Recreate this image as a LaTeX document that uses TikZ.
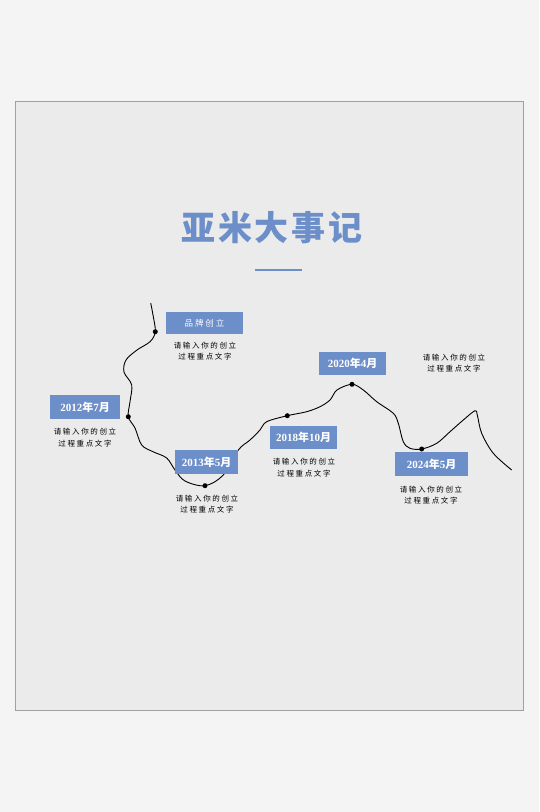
\documentclass[tikz,border=0pt]{standalone}
\usepackage{fontspec}
\setmainfont{Liberation Serif}
\newfontfamily\cjk{Noto Sans CJK SC}
\newfontfamily\cjkwide[LetterSpace=22]{Noto Sans CJK SC}
\newfontfamily\cjktitle[LetterSpace=8]{Noto Sans CJK SC}
\usetikzlibrary{positioning}
\definecolor{ymblue}{HTML}{6C8EC9}
\definecolor{ymbg}{HTML}{F4F4F4}
\definecolor{ympanel}{HTML}{EBEBEB}
\definecolor{ymedge}{HTML}{A0A0A0}
\newcommand{\ymdate}[2]{\textbf{#1}{\cjk\bfseries 年}\textbf{#2}{\cjk\bfseries 月}}

\begin{document}
\begin{tikzpicture}[x=1pt,y=-1pt,
  datebox/.style={fill=ymblue,text=white,inner sep=0pt,font=\fontsize{11}{12}\selectfont},
  note/.style={align=center,text=black,font=\cjkwide\fontsize{7.5}{11.5}\selectfont},
  dot/.style={circle,fill=black,inner sep=0pt,minimum size=5pt}]
  \useasboundingbox (0,0) rectangle (539,812);
  \fill[ymbg] (0,0) rectangle (539,812);
  \draw[ymedge,fill=ympanel] (15,101) rectangle (523,710);
  % title
  \node[text=ymblue,font=\cjktitle\bfseries\fontsize{34}{36}\selectfont] (title) at (272,228) {亚米大事记};
  \coordinate (ulA) at (255,270);
  \coordinate (ulB) at (302,270);
  \draw[ymblue,line width=1.8pt] (ulA) -- (ulB);
  % timeline curve
  \draw[line width=0.9pt] plot[smooth,tension=0.55] coordinates {
    (150.7,303) (153,315) (155.3,331.7) (150,341.7) (137,350) (126,360)
    (124,372) (131.7,385) (130,401.7) (128.3,416.7) (135,428) (141.7,445)
    (153,451.7) (166.7,458) (175,470) (185,481) (205,485.7) (223.3,475)
    (238.3,450) (250,440) (260,430) (266.7,421.7) (287.3,415.7) (306.7,411.7)
    (320,406.7) (330,400) (337,390) (352,384.3) (363.3,390) (376.7,401.7)
    (393.3,413.3) (398.3,423.3) (403.3,441.7) (410,448.3) (421.7,449)
    (436.7,443.3) (450,431.7) (463.3,420) (475,410.7) (477.3,415)
    (481.7,433.3) (493.3,453.3) (511.7,470)};
  \foreach \n/\x/\y in {1/155.3/331.7, 2/128.3/416.7, 3/205/485.7,
                        4/287.3/415.7, 5/352/384.3, 6/421.7/449}
    {\node[dot] (d\n) at (\x,\y) {};}
  % milestones
  \node[datebox,minimum width=77pt,minimum height=22pt,font=\cjkwide\fontsize{8.5}{10}\selectfont] (b1) at (204.5,323) {品牌创立};
  \node[datebox,minimum width=70pt,minimum height=24pt] (b2) at (85,407) {\ymdate{2012}{7}};
  \node[datebox,minimum width=63pt,minimum height=24pt] (b3) at (206.5,462) {\ymdate{2013}{5}};
  \node[datebox,minimum width=67pt,minimum height=23pt] (b4) at (303.5,437.5) {\ymdate{2018}{10}};
  \node[datebox,minimum width=67pt,minimum height=23pt] (b5) at (352.5,363.5) {\ymdate{2020}{4}};
  \node[datebox,minimum width=73pt,minimum height=24pt] (b6) at (431.5,464) {\ymdate{2024}{5}};
  \foreach \n/\x/\y in {1/205/351, 2/85/437.5, 3/207/504,
                        4/304/467.5, 5/454/363, 6/431/495}
    {\node[note] (n\n) at (\x,\y) {请输入你的创立\\过程重点文字};}
\end{tikzpicture}
\end{document}
